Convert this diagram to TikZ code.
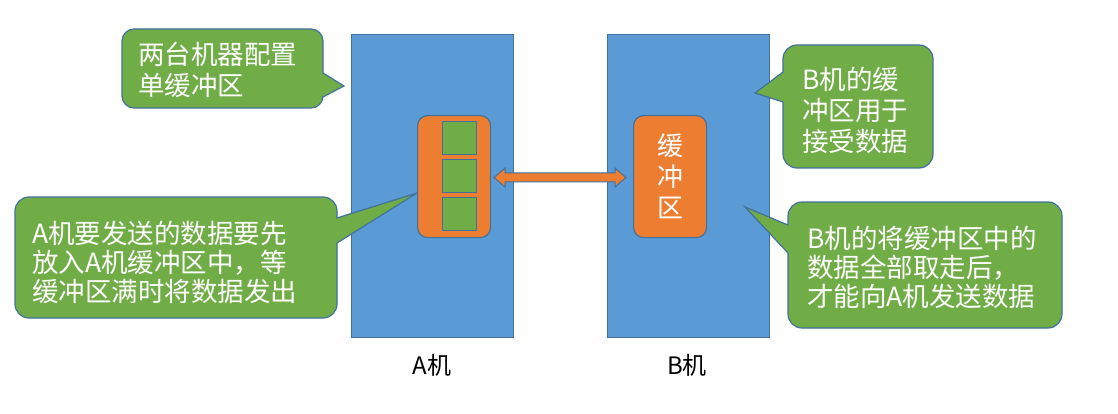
\documentclass[tikz,border=0pt]{standalone}
\usepackage{fontspec}
\setmainfont{Noto Sans CJK SC}
\begin{document}
\definecolor{mblue}{HTML}{5B9BD5}
\definecolor{bline}{HTML}{41719C}
\definecolor{morange}{HTML}{ED7D31}
\definecolor{mgreen}{HTML}{70AD47}
\begin{tikzpicture}[x=1pt,y=-1pt,
  machine/.style={draw=bline,fill=mblue,line width=1.2pt,minimum width=162pt,minimum height=303pt,inner sep=0pt,anchor=north west},
  buffer/.style={draw=bline,fill=morange,line width=1.2pt,rounded corners=10pt,minimum width=73pt,minimum height=122pt,inner sep=0pt,anchor=north west},
  cell/.style={draw=bline,fill=mgreen,line width=1.2pt,minimum width=34pt,minimum height=33pt,inner sep=0pt,anchor=north west},
  callout/.style={draw=bline,fill=mgreen,line width=1.2pt,line join=miter},
  ctext/.style={text=white,font=\fontsize{26.5}{29}\selectfont,align=left,inner sep=0pt,anchor=west},
  label/.style={text=black,font=\fontsize{24}{28}\selectfont,inner sep=0pt},
  barrow/.style={draw=bline,fill=morange,line width=1pt,line join=miter}]
\useasboundingbox (0,0) rectangle (1118,414);
% machines
\node[machine] (ma) at (351,34) {};
\node[machine] (mb) at (607,34) {};
% callouts
\draw[callout] (134,29) -- (311,29) arc(270:360:12) -- (323,73) -- (344,86) -- (323,97) -- (323,96) arc(0:90:12) -- (134,108) arc(90:180:12) -- (122,41) arc(180:270:12) -- cycle;
\node[ctext,font=\fontsize{26.5}{31}\selectfont] (t1) at (138,70) {两台机器配置\\单缓冲区};
\draw[callout] (797,45) -- (919,45) arc(270:360:14) -- (933,154) arc(0:90:14) -- (797,168) arc(90:180:14) -- (783,102) -- (755,93) -- (783,72) -- (783,59) arc(180:270:14) -- cycle;
\node[ctext,font=\fontsize{26.5}{31}\selectfont] (t2) at (802,110) {B机的缓\\冲区用于\\接受数据};
\draw[callout] (29,197) -- (323,197) arc(270:360:14) -- (337,218) -- (417,193) -- (337,243) -- (337,304) arc(0:90:14) -- (29,318) arc(90:180:14) -- (15,211) arc(180:270:14) -- cycle;
\node[ctext] (t3) at (32,262) {A机要发送的数据要先\\放入A机缓冲区中，等\\缓冲区满时将数据发出};
\draw[callout] (802,202) -- (1048,202) arc(270:360:14) -- (1062,314) arc(0:90:14) -- (802,328) arc(90:180:14) -- (788,253) -- (745,207) -- (788,225) -- (788,216) arc(180:270:14) -- cycle;
\node[ctext] (t4) at (807,267) {B机的将缓冲区中的\\数据全部取走后，\\才能向A机发送数据};
% buffers
\node[buffer] (ba) at (417,115) {};
\node[cell] (c1) at (442,121) {};
\node[cell] (c2) at (442,159) {};
\node[cell] (c3) at (442,197) {};
\node[buffer,text=white,font=\fontsize{26}{31}\selectfont,align=center] (bb) at (633,115) {缓\\冲\\区};
% double arrow between buffers
\draw[barrow] (494,177.5) -- (505,168) -- (505,173) -- (615,173) -- (615,168) -- (626,177.5) -- (615,187) -- (615,182) -- (505,182) -- (505,187) -- cycle;
% labels
\node[label] (la) at (432,365) {A机};
\node[label] (lb) at (687,365) {B机};
\end{tikzpicture}
\end{document}
